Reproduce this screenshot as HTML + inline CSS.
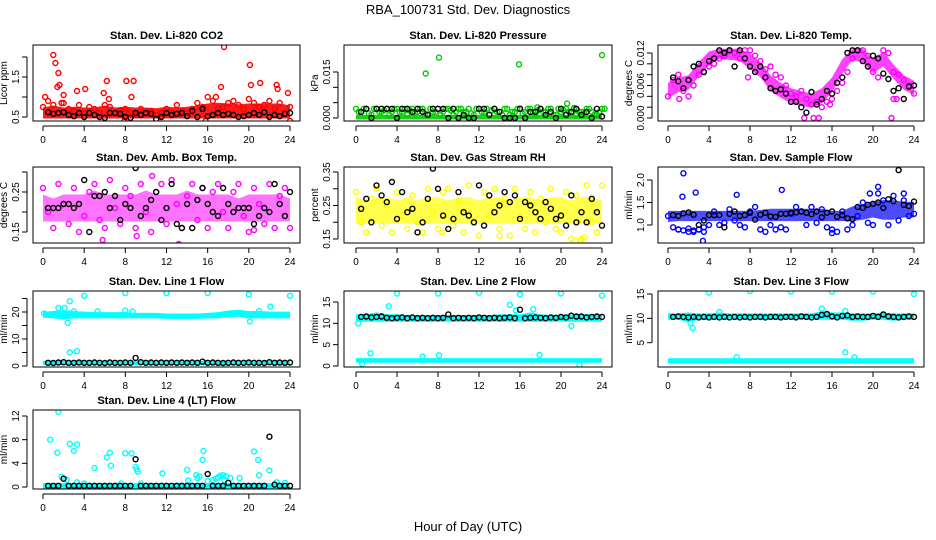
<!DOCTYPE html>
<html><head><meta charset="utf-8"><style>
body{margin:0;background:#fff;}
svg{display:block;font-family:"Liberation Sans",sans-serif;}
</style></head><body>
<svg id="c" width="936" height="540" viewBox="0 0 936 540">
<text x="468" y="14" text-anchor="middle" font-size="13">RBA_100731  Std. Dev. Diagnostics</text>
<text x="468" y="531" text-anchor="middle" font-size="13">Hour of Day (UTC)</text>
</svg>
<script>
const co2Lo=[0.5,0.5,0.5,0.5,0.5,0.5,0.5,0.5,0.5,0.5,0.5,0.5,0.5,0.5,0.5,0.5,0.5,0.5,0.5,0.5,0.5,0.5,0.5,0.5,0.5];
const co2Hi=[0.7,0.75,0.7,0.72,0.7,0.7,0.75,0.7,0.72,0.7,0.7,0.68,0.72,0.7,0.72,0.75,0.8,0.82,0.8,0.78,0.8,0.8,0.8,0.8,0.75];
const co2Pts=[0.75,0.9,0.8,0.6,0.85,0.7,0.65,0.8,0.6,0.75,0.7,0.6,0.8,0.75,0.6,0.65,0.7,0.6,0.55,0.7,0.6,0.65,0.55,0.6,0.7,0.6,0.8,0.65,0.6,0.7,0.85,0.75,1.0,0.9,0.7,0.75,0.85,0.9,0.8,0.7,0.95,0.85,0.75,0.8,0.9,0.7,0.85,0.6,0.75];
const co2Out=[[1,2.05],[1.2,1.85],[1.5,1.6],[1.6,1.3],[1.4,1.25],[2,1.05],[3.3,1.15],[4.1,1.2],[5.9,1.1],[6.2,1.4],[8.1,1.4],[8.8,1.4],[8.6,1.0],[17.6,2.25],[17.3,1.25],[20.1,1.8],[20.2,1.3],[21.1,1.35],[22.7,1.3],[22.8,1.2],[23.8,1.1],[16.8,1.0],[7.9,0.4],[24,0.4],[15.8,0.4],[0.2,1.0],[1.8,0.85],[6.4,0.95]];
const co2Blk=[0.62,0.58,0.6,0.62,0.55,0.52,0.6,0.5,0.6,0.55,0.5,0.48,0.6,0.6,0.58,0.5,0.48,0.6,0.55,0.6,0.58,0.45,0.5,0.6,0.55,0.58,0.6,0.52,0.65,0.5,0.7,0.52,0.55,0.6,0.55,0.58,0.55,0.5,0.52,0.55,0.6,0.55,0.62,0.5,0.55,0.52,0.58,0.6];

const prLo=[0,0,0,0,0,0,0,0,0,0,0,0,0,0,0,0,0,0,0,0,0,0,0,0,0];
const prHi=[0.0005,0.0005,0.0005,0.0005,0.0005,0.0005,0.0005,0.0005,0.0005,0.0005,0.0005,0.0005,0.0005,0.0005,0.0005,0.0005,0.0005,0.0005,0.0005,0.0005,0.0005,0.0005,0.0005,0.0005,0.0005];
const prPts=[0.003,0.002,0.003,0.001,0.003,0.002,0.003,0.002,0.003,0.002,0.001,0.003,0.002,0.003,0.001,0.002,0.003,0.002,0.003,0.001,0.003,0.002,0.003,0.001,0.003,0.002,0.001,0.003,0.002,0.003,0.001,0.002,0.003,0.002,0.003,0.001,0.003,0.002,0.003,0.001,0.002,0.003,0.002,0.001,0.002,0.003,0.002,0.001,0.003];
const prPts2=[0.002,0.003,0.0015,0.003,0.002,0.0025,0.001,0.003,0.002,0.003,0.0025,0.002,0.003,0.0015,0.003,0.002,0.001,0.003,0.0025,0.002,0.003,0.002,0.0015,0.003,0.002,0.003,0.0025,0.002,0.001,0.003,0.002,0.003,0.0015,0.003,0.002,0.0025,0.002,0.003,0.001,0.003,0.0025,0.002,0.003,0.002,0.0015,0.003,0.001,0.002,0.003];
const prOut=[[6.8,0.0145],[8.1,0.0197],[15.9,0.0175],[24,0.0205],[20.6,0.0047],[17.7,0.0035],[21.3,0.0033]];
const prBlk=[0.002,0.003,0.0,0.003,0.003,0.003,0.003,0.0,0.003,0.003,0.002,0.003,0.002,0.001,0.003,0.003,0.003,0.0,0.003,0.0,0.001,0.0,0.0,0.003,0.003,0.001,0.003,0.002,0.0,0.0,0.0,0.003,0.0,0.002,0.002,0.003,0.001,0.002,0.0,0.003,0.001,0.002,0.003,0.001,0.002,0.0,0.003,0.0005];

const tmLo=[0.0040,0.0050,0.0055,0.0080,0.0100,0.0112,0.0110,0.0108,0.0093,0.0078,0.0053,0.0040,0.0030,0.0025,0.0022,0.0030,0.0050,0.0085,0.0110,0.0105,0.0085,0.0098,0.0075,0.0055,0.0045];
const tmHi=[0.0062,0.0072,0.0076,0.0100,0.0120,0.0125,0.0125,0.0125,0.0116,0.0100,0.0076,0.0062,0.0052,0.0047,0.0042,0.0052,0.0072,0.0106,0.0125,0.0125,0.0106,0.0120,0.0096,0.0076,0.0066];
const tmPts=[0.004,0.007,0.008,0.005,0.004,0.006,0.008,0.0085,0.0095,0.01,0.011,0.0115,0.0125,0.012,0.011,0.0125,0.0125,0.0115,0.0105,0.009,0.0095,0.008,0.0075,0.006,0.0045,0.004,0.005,0.0035,0.0025,0.003,0.002,0.003,0.0035,0.005,0.0065,0.0085,0.011,0.0125,0.0125,0.0115,0.0085,0.0075,0.0125,0.012,0.0085,0.008,0.007,0.006,0.0045];
const tmOut=[[1.1,0.0035],[13.3,0],[14.2,0],[14.7,0],[21.8,0],[22.0,0.0035],[22.3,0.0035],[15.8,0.0025],[7.8,0.0075]];
const tmBlk=[0.0075,0.0068,0.0055,0.007,0.0095,0.01,0.0085,0.0105,0.011,0.0125,0.012,0.0125,0.0095,0.0125,0.011,0.0095,0.0085,0.0095,0.0075,0.0055,0.005,0.0053,0.0045,0.003,0.003,0.002,0.001,0.0048,0.0025,0.0035,0.005,0.0045,0.0065,0.0075,0.012,0.0125,0.0125,0.0105,0.0095,0.0115,0.011,0.0082,0.0072,0.005,0.0055,0.0035,0.0058,0.006];

const abLo=[0.18,0.18,0.18,0.18,0.18,0.18,0.18,0.18,0.18,0.18,0.18,0.18,0.18,0.18,0.18,0.18,0.18,0.18,0.18,0.18,0.18,0.18,0.18,0.18,0.18];
const abHi=[0.24,0.23,0.24,0.24,0.24,0.25,0.24,0.24,0.24,0.24,0.25,0.24,0.24,0.24,0.25,0.24,0.24,0.24,0.24,0.23,0.24,0.24,0.24,0.24,0.23];
const abPts=[0.26,0.2,0.16,0.27,0.22,0.17,0.26,0.15,0.19,0.25,0.27,0.18,0.16,0.28,0.21,0.17,0.26,0.24,0.16,0.27,0.2,0.15,0.25,0.27,0.17,0.28,0.22,0.16,0.24,0.27,0.18,0.26,0.16,0.25,0.27,0.2,0.16,0.25,0.27,0.19,0.15,0.26,0.22,0.17,0.27,0.16,0.24,0.26,0.16];
const abOut=[[5.8,0.13],[10.6,0.29],[13.2,0.12],[23.8,0.115],[9.1,0.14],[20.5,0.155]];
const abBlk=[0.21,0.21,0.21,0.22,0.22,0.21,0.22,0.28,0.15,0.24,0.24,0.25,0.21,0.24,0.18,0.22,0.21,0.31,0.19,0.21,0.23,0.25,0.18,0.21,0.27,0.17,0.16,0.22,0.16,0.23,0.26,0.22,0.2,0.19,0.26,0.22,0.2,0.21,0.21,0.21,0.17,0.19,0.21,0.2,0.27,0.22,0.19,0.25];

const rhLo=[0.2,0.2,0.2,0.2,0.2,0.2,0.2,0.2,0.2,0.2,0.2,0.2,0.2,0.2,0.2,0.2,0.2,0.2,0.2,0.2,0.2,0.2,0.2,0.2,0.2];
const rhHi=[0.27,0.26,0.27,0.27,0.26,0.27,0.26,0.27,0.27,0.26,0.27,0.27,0.26,0.27,0.27,0.26,0.27,0.27,0.26,0.27,0.27,0.26,0.27,0.27,0.26];
const rhPts=[0.29,0.2,0.17,0.27,0.3,0.19,0.25,0.17,0.29,0.22,0.18,0.28,0.2,0.17,0.3,0.23,0.18,0.29,0.3,0.19,0.26,0.17,0.31,0.2,0.16,0.29,0.22,0.3,0.18,0.27,0.16,0.3,0.22,0.18,0.29,0.17,0.27,0.2,0.3,0.18,0.17,0.29,0.15,0.28,0.15,0.31,0.2,0.17,0.31];
const rhOut=[[21.4,0.145],[21.9,0.145],[22.3,0.155],[14,0.16],[8.4,0.17]];
const rhBlk=[0.24,0.27,0.2,0.31,0.28,0.26,0.32,0.21,0.29,0.23,0.24,0.17,0.2,0.27,0.36,0.3,0.22,0.18,0.21,0.29,0.23,0.22,0.2,0.31,0.19,0.28,0.23,0.25,0.29,0.26,0.28,0.21,0.26,0.25,0.23,0.21,0.26,0.24,0.21,0.22,0.19,0.28,0.2,0.23,0.2,0.27,0.23,0.19];

const sfLo=[1.1,1.12,1.12,1.12,1.12,1.12,1.12,1.12,1.12,1.12,1.12,1.12,1.12,1.12,1.12,1.12,1.12,1.12,1.12,1.15,1.2,1.15,1.15,1.2,1.2];
const sfHi=[1.28,1.28,1.28,1.28,1.28,1.28,1.28,1.28,1.28,1.3,1.33,1.33,1.33,1.33,1.33,1.33,1.28,1.28,1.38,1.42,1.48,1.52,1.52,1.48,1.48];
const sfPts=[1.2,0.95,0.9,0.88,0.92,0.85,0.9,0.95,1.0,1.3,1.0,1.05,1.35,1.1,1.0,0.95,1.3,1.4,0.9,0.85,1.0,0.9,0.95,0.9,1.25,1.4,1.3,1.0,1.4,1.05,1.35,0.95,0.9,0.85,1.3,0.9,1.0,1.2,1.5,1.05,1.0,1.7,1.55,1.0,1.65,1.1,1.55,1.2,1.25];
const sfOut=[[1.5,2.15],[1.4,1.63],[2.7,1.72],[3.4,0.65],[6.7,1.67],[11.1,1.78],[20.5,1.85],[19.7,1.7],[23,1.7],[16,0.82],[1,0.9],[2,0.85],[2.5,0.88],[3,0.9],[3.5,0.85]];
const sfBlk=[1.22,1.2,1.26,1.28,1.23,1.0,1.1,1.22,1.22,1.22,0.95,1.25,1.3,1.2,1.22,1.27,1.12,1.23,1.27,1.19,1.18,1.25,1.25,1.27,1.28,1.3,1.27,1.24,1.3,1.17,1.27,1.3,1.18,1.22,1.15,1.13,1.4,1.38,1.45,1.47,1.5,1.38,1.57,1.53,2.22,1.45,1.42,1.52];

const l1UpLo=[18.5,18.2,17.8,18.2,18.2,18.2,18.2,18.2,18.2,18.2,18.2,18.2,18,18,18,18,18.2,18.2,18.6,18.8,18.2,18.2,18.2,18.2,18.2];
const l1UpHi=[19.6,19.8,20.2,19.8,19.6,19.4,19.4,19.4,19.4,19.1,19.1,19.1,18.9,18.9,18.9,18.9,19.1,19.4,20,20.3,19.8,19.8,19.6,19.6,19.6];
const l1LoLo=[0.9,0.9,0.9,0.9,0.9,0.9,0.9,0.9,0.9,0.9,0.9,0.9,0.9,0.9,0.9,0.9,0.9,0.9,0.9,0.9,0.9,0.9,0.9,0.9,0.9];
const l1LoHi=[1.4,1.4,1.4,1.4,1.4,1.4,1.4,1.4,1.4,1.4,1.4,1.4,1.4,1.4,1.4,1.4,1.4,1.4,1.4,1.4,1.4,1.4,1.4,1.4,1.4];
const l1Out=[[4,26],[8,27],[12,27],[16,27],[20,26.5],[24,26],[2.6,24],[1.5,21.5],[2.1,21.5],[2.4,16],[2.6,5],[3.3,5.5],[20.1,16.5],[22.1,22],[0.1,19.5],[8,20.5],[8.7,20.2],[5.3,20.2],[21,20.3],[3,20.2]];
const l1Blk=[1.2,1.1,1.3,1.4,1.2,1.2,1.3,1.2,1.2,1.3,1.2,1.1,1.3,1.2,1.2,1.3,1.2,3.0,1.4,1.2,1.3,1.2,1.3,1.2,1.3,1.2,1.3,1.2,1.3,1.2,1.6,1.2,1.3,1.2,1.1,1.2,1.3,1.2,1.2,1.3,1.2,1.2,1.1,1.4,1.2,1.3,1.2,1.3];

const l2UpLo=[10.7,10.7,10.7,10.7,10.7,10.7,10.7,10.7,10.7,10.7,10.7,10.7,10.7,10.7,10.7,10.7,10.7,10.7,10.7,10.7,10.7,10.7,10.7,10.7,10.7];
const l2UpHi=[11.8,11.8,12.2,11.8,11.8,11.6,11.6,11.6,11.6,11.6,11.6,11.6,11.6,11.6,11.8,11.8,11.8,12.2,11.8,11.6,11.6,11.8,11.8,11.8,11.8];
const l2LoLo=[1.1,1.1,1.1,1.1,1.1,1.1,1.1,1.1,1.1,1.1,1.1,1.1,1.1,1.1,1.1,1.1,1.1,1.1,1.1,1.1,1.1,1.1,1.1,1.1,1.1];
const l2LoHi=[1.5,1.5,1.5,1.5,1.5,1.5,1.5,1.5,1.5,1.5,1.5,1.5,1.5,1.5,1.5,1.5,1.5,1.5,1.5,1.5,1.5,1.5,1.5,1.5,1.5];
const l2Out=[[4,17],[8,17],[12,17.2],[16,16.8],[20,17],[24,16.5],[3.2,14],[15,14.3],[17.3,13.3],[15.6,13],[1.4,3],[8.1,2.5],[17.9,2.6],[0.2,10],[21,9.4],[21.8,0.3],[0.6,0.5],[6.5,2.2]];
const l2Blk=[11.5,11.6,11.4,11.5,11.6,11.3,11.2,11.3,11.4,11.2,11.4,11.2,11.3,11.2,11.3,11.2,11.3,12.1,11.2,11.3,11.2,11.3,11.2,11.4,11.3,11.2,11.3,11.2,11.3,11.4,11.2,13.2,11.2,11.3,11.4,11.3,11.2,11.4,11.3,11.5,11.4,11.8,11.6,11.6,11.4,11.5,11.6,11.5];

const l3UpLo=[10,10,9.5,10,10,10,10,10,10,10,10,10,10,10,10,10,10,10,9.8,9.8,10,10,9.8,10,10];
const l3UpHi=[10.7,10.7,10.9,10.7,10.7,10.9,10.7,10.7,10.7,10.7,10.7,10.7,10.7,10.7,10.7,11.2,10.9,10.9,10.7,10.7,10.7,10.9,10.7,10.7,10.7];
const l3LoLo=[1,1,1,1,1,1,1,1,1,1,1,1,1,1,1,1,1,1,1,1,1,1,1,1,1];
const l3LoHi=[1.5,1.5,1.5,1.5,1.5,1.5,1.5,1.5,1.5,1.5,1.5,1.5,1.5,1.5,1.5,1.5,1.5,1.5,1.5,1.5,1.5,1.5,1.5,1.5,1.5];
const l3Out=[[4,15.3],[8,15.6],[12,15.5],[16,15.5],[20,15.5],[24,15],[2.4,8],[2.2,9],[15,12],[17.3,11.5],[17.3,3],[6.7,2],[18.2,2],[5,11.3]];
const l3Blk=[10.3,10.4,10.3,10.2,10.3,10.2,10.3,10.2,10.3,10.2,10.3,10.2,10.3,10.2,10.3,10.2,10.3,10.3,10.2,10.3,10.3,10.2,10.3,10.3,10.2,10.4,10.3,10.2,10.3,10.7,10.9,10.4,10.2,10.5,10.6,10.3,10.4,10.3,10.3,10.5,10.3,10.8,10.4,10.3,10.2,10.3,10.4,10.3];

const l4Lo=[0,0,0,0,0,0,0,0,0,0,0,0,0,0,0,0,0,0,0,0,0,0,0,0,0];
const l4Hi=[0.4,0.4,0.4,0.4,0.4,0.4,0.4,0.4,0.4,0.4,0.4,0.4,0.4,0.4,0.4,0.4,0.4,0.4,0.4,0.4,0.4,0.4,0.4,0.4,0.4];
const l4Out=[[0.7,8],[1.5,12.7],[1.4,5.8],[2.6,7.3],[3.0,6.1],[3.3,7.2],[5.0,3.2],[6.2,5],[6.5,5.8],[6.6,3.6],[8.0,5.7],[8.6,5.7],[9,3.4],[9.2,2.6],[9.1,3],[11.6,2.3],[14,2.9],[14.1,1.1],[14.9,2],[15,1.5],[15.5,4.6],[15.6,6.1],[16,1],[16.5,1.2],[17,1.6],[17.5,2],[17.8,1.8],[18.2,1.5],[19.1,1.5],[20.5,6],[20.9,4.6],[21,2],[22,2.8],[22.7,0.8],[23.5,0.7],[1.8,1.7],[2.3,1.2],[3.3,0.8],[4,0.6],[7.6,0.6],[9.5,0.6],[17.2,1.9],[16.8,1.4],[15.2,1.8],[17.6,1.2]];
const l4Blk=[0.2,0.2,0.2,1.4,0.2,0.2,0.2,0.2,0.2,0.2,0.2,0.2,0.2,0.2,0.2,0.2,0.2,4.7,0.2,0.2,0.2,0.2,0.2,0.2,0.2,0.2,0.2,0.2,0.2,0.2,0.2,2.2,0.2,0.2,0.2,0.7,0.2,0.2,0.2,0.2,0.2,0.2,0.2,8.5,0.4,0.2,0.2,0.2];

const xTicks=[0,4,8,12,16,20,24];
const xTickLabels=['0','4','8','12','16','20','24'];

const panels=[
 {title:'Stan. Dev. Li-820 CO2',ylab:'Licor ppm',c:0,r:0,color:'#ff0000',op:0.9,v0:0.5,p0:117,v1:1.5,p1:77,ticks:[0.5,1,1.5,2],labels:['0.5','','1.5',''],bands:[[co2Lo,co2Hi]],pts:[co2Pts],out:co2Out,blk:co2Blk},
 {title:'Stan. Dev. Li-820 Pressure',ylab:'kPa',c:1,r:0,color:'#00cc00',op:0.9,v0:0,p0:118,v1:0.015,p1:72,ticks:[0,0.005,0.01,0.015],labels:['0.000','','','0.015'],bands:[[prLo,prHi]],pts:[prPts,prPts2],out:prOut,blk:prBlk},
 {title:'Stan. Dev. Li-820 Temp.',ylab:'degrees C',c:2,r:0,color:'#ff00ff',op:0.75,v0:0,p0:118,v1:0.012,p1:53,ticks:[0,0.002,0.004,0.006,0.008,0.01,0.012],labels:['0.000','','','0.006','','','0.012'],bands:[[tmLo,tmHi]],pts:[tmPts],out:tmOut,blk:tmBlk},
 {title:'Stan. Dev. Amb. Box Temp.',ylab:'degrees C',c:0,r:1,color:'#ff00ff',op:0.55,v0:0.15,p0:232,v1:0.25,p1:192,ticks:[0.15,0.2,0.25,0.3],labels:['0.15','','0.25',''],bands:[[abLo,abHi]],pts:[abPts],out:abOut,blk:abBlk},
 {title:'Stan. Dev. Gas Stream RH',ylab:'percent',c:1,r:1,color:'#ffff00',op:0.7,v0:0.15,p0:239,v1:0.35,p1:172,ticks:[0.15,0.2,0.25,0.3,0.35],labels:['0.15','','0.25','','0.35'],bands:[[rhLo,rhHi]],pts:[rhPts],out:rhOut,blk:rhBlk},
 {title:'Stan. Dev. Sample Flow',ylab:'ml/min',c:2,r:1,color:'#0000ff',op:0.7,v0:1,p0:225,v1:2,p1:180,ticks:[1,1.5,2],labels:['1.0','1.5','2.0'],bands:[[sfLo,sfHi]],pts:[sfPts],out:sfOut,blk:sfBlk},
 {title:'Stan. Dev. Line 1 Flow',ylab:'ml/min',c:0,r:2,color:'#00ffff',op:1,v0:0,p0:366,v1:20,p1:312,ticks:[0,5,10,15,20,25],labels:['0','','10','','20',''],bands:[[l1UpLo,l1UpHi],[l1LoLo,l1LoHi]],pts:[],out:l1Out,blk:l1Blk},
 {title:'Stan. Dev. Line 2 Flow',ylab:'ml/min',c:1,r:2,color:'#00ffff',op:1,v0:0,p0:366,v1:15,p1:302,ticks:[0,5,10,15],labels:['0','5','10','15'],bands:[[l2UpLo,l2UpHi],[l2LoLo,l2LoHi]],pts:[],out:l2Out,blk:l2Blk},
 {title:'Stan. Dev. Line 3 Flow',ylab:'ml/min',c:2,r:2,color:'#00ffff',op:1,v0:0,p0:367,v1:15,p1:294,ticks:[5,10,15],labels:['5','10','15'],bands:[[l3UpLo,l3UpHi],[l3LoLo,l3LoHi]],pts:[],out:l3Out,blk:l3Blk},
 {title:'Stan. Dev. Line 4 (LT) Flow',ylab:'ml/min',c:0,r:3,color:'#00ffff',op:1,v0:0,p0:487,v1:12,p1:416,ticks:[0,4,8,12],labels:['0','4','8','12'],bands:[[l4Lo,l4Hi]],pts:[],out:l4Out,blk:l4Blk}
];
const boxL=[33,344,658], boxR=[300,612,924], hx0=[43,356,668], hx24=[290,602,914];
const boxT=[45,167,291,410], boxB=[121,243,367,489];

const NS='http://www.w3.org/2000/svg', svg=document.getElementById('c');
function mk(tag,attrs,parent){const e=document.createElementNS(NS,tag);for(const k in attrs)e.setAttribute(k,attrs[k]);(parent||svg).appendChild(e);return e;}

panels.forEach((p,pi)=>{
  const g=mk('g',{});
  
  
  const L=boxL[p.c],R=boxR[p.c],T=boxT[p.r],B=boxB[p.r];
  const xs=h=>hx0[p.c]+h*(hx24[p.c]-hx0[p.c])/24;
  const ys=v=>p.p0+(v-p.v0)*(p.p1-p.p0)/(p.v1-p.v0);
  const clip='clip'+pi;
  const cp=mk('clipPath',{id:clip},g);mk('rect',{x:L,y:T,width:R-L,height:B-T},cp);
  const plot=mk('g',{'clip-path':'url(#'+clip+')'},g);
  
  
  p.bands.forEach(b=>{
    const lo=b[0],hi=b[1];let d='';
    hi.forEach((v,i)=>{d+=(i?'L':'M')+xs(i).toFixed(1)+','+(ys(v)-1.5).toFixed(1);});
    for(let i=lo.length-1;i>=0;i--)d+='L'+xs(i).toFixed(1)+','+(ys(lo[i])+1.5).toFixed(1);
    const pa=mk('path',{d:d+'Z',fill:p.color,'fill-opacity':p.op},plot);
    
    
  });
  const dot=(h,v,col,name)=>{const c=mk('circle',{cx:xs(h).toFixed(1),cy:ys(v).toFixed(1),r:2.5,fill:'none',stroke:col,'stroke-width':1.4},plot);
    
    };
  p.pts.forEach((arr,ai)=>arr.forEach((v,i)=>dot(i*0.5+(ai===1?0.25:0),v,p.color,'data-point')));
  p.out.forEach(o=>dot(o[0],o[1],p.color,'data-point'));
  p.blk.forEach((v,i)=>dot(0.5+i*0.5,v,'#000','hourly-point'));
  const bx=mk('rect',{x:L,y:T,width:R-L,height:B-T,fill:'none',stroke:'#000','stroke-width':1},g);
  
  
  const t=mk('text',{x:(L+R)/2,y:T-6,'text-anchor':'middle','font-size':11,'font-weight':'bold'},g);t.textContent=p.title;
  
  
  const xa=mk('g',{stroke:'#000','stroke-width':1},g);
  
  
  mk('line',{x1:xs(0),x2:xs(24),y1:B+5,y2:B+5},xa);
  xTicks.forEach((h,i)=>{mk('line',{x1:xs(h),x2:xs(h),y1:B+5,y2:B+10},xa);
    const tl=mk('text',{x:xs(h),y:B+22,'text-anchor':'middle','font-size':10,stroke:'none'},xa);tl.textContent=xTickLabels[i];
    
    });
  const ya=mk('g',{stroke:'#000','stroke-width':1},g);
  
  
  mk('line',{x1:L-6,x2:L-6,y1:ys(p.ticks[0]),y2:ys(p.ticks[p.ticks.length-1])},ya);
  p.ticks.forEach((v,i)=>{const y=ys(v);mk('line',{x1:L-6,x2:L-11,y1:y,y2:y},ya);
    if(p.labels[i]){const tl=mk('text',{x:L-14,y:y,'text-anchor':'middle','font-size':10,stroke:'none',transform:'rotate(-90 '+(L-14)+' '+y+')'},ya);tl.textContent=p.labels[i];
      
      }});
  const yl=mk('text',{x:L-26,y:(T+B)/2,'text-anchor':'middle','font-size':10,transform:'rotate(-90 '+(L-26)+' '+(T+B)/2+')'},g);yl.textContent=p.ylab;
  
  
});
</script>
</body></html>
